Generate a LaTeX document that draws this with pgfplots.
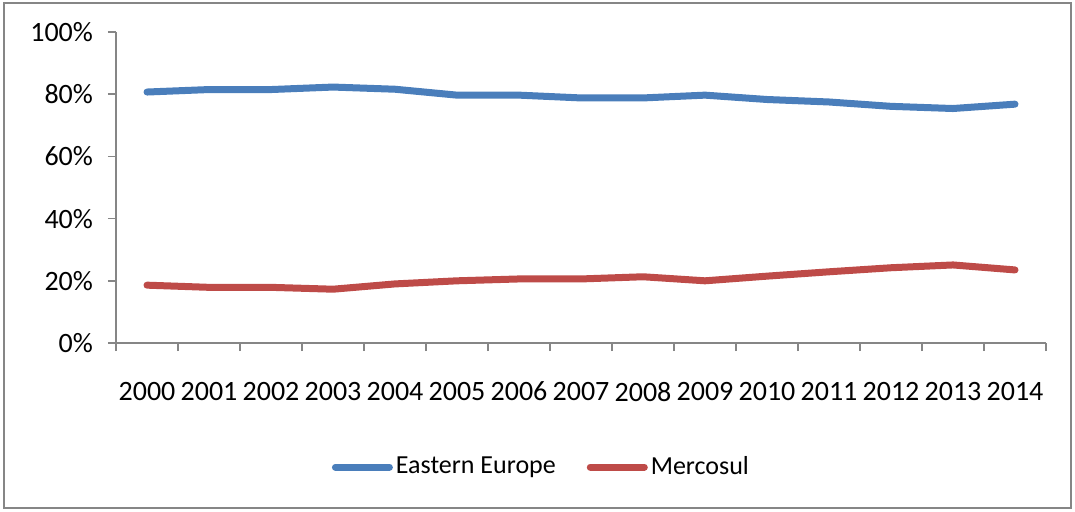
\documentclass[border=0pt]{standalone}
\usepackage{fontspec}
\setmainfont{Carlito}
\usepackage{pgfplots}
\pgfplotsset{compat=1.18}
\definecolor{eblue}{HTML}{4A7EBB}
\definecolor{mred}{HTML}{BE4B48}
\definecolor{axgray}{HTML}{868686}
\begin{document}
\begin{tikzpicture}
\path[use as bounding box] (-58pt,-84pt) rectangle (479.5pt,171.5pt);
\draw[axgray, line width=0.75pt] (-56pt,-82.5pt) rectangle (477.5pt,170pt);
\begin{axis}[
  at={(0pt,0pt)}, anchor=south west,
  scale only axis, width=465pt, height=155.5pt,
  xmin=-0.5, xmax=14.5, ymin=0, ymax=100,
  axis lines=left,
  axis line style={-, draw=axgray, line width=0.75pt},
  tick style={axgray, line width=0.75pt},
  tick align=outside,
  major tick length=4pt, minor tick length=4pt,
  ytick={0,20,...,100},
  yticklabel={\pgfmathprintnumber{\tick}\%},
  /pgf/number format/assume math mode=true,
  xtick={0,...,14},
  xticklabels={2000,2001,2002,2003,2004,2005,2006,2007,2008,2009,2010,2011,2012,2013,2014},
  major x tick style={draw=none},
  minor xtick={-0.5,0.5,...,14.5},
  ticklabel style={font=\fontsize{14}{16}\selectfont, text=black},
  xticklabel style={yshift=-12pt},
  yticklabel style={xshift=-4pt},
  legend style={draw=none, fill=none, at={(0.458,-0.399)}, anchor=center,
    font=\fontsize{13}{15}\selectfont, legend columns=2,
    nodes={inner sep=1.5pt},
    /tikz/every even column/.append style={column sep=14pt}},
  legend image code/.code={\draw[#1, line cap=round] (0pt,0pt) -- (27pt,0pt);},
  every axis plot/.append style={line width=3.5pt, line cap=round, line join=round},
]
\addplot[eblue, mark=none] coordinates {
(0,80.7) (1,81.5) (2,81.5) (3,82.3) (4,81.6) (5,79.7) (6,79.7) (7,78.8)
(8,78.8) (9,79.7) (10,78.3) (11,77.5) (12,76.1) (13,75.4) (14,76.8)};
\addlegendentry{Eastern Europe}
\addplot[mred, mark=none] coordinates {
(0,18.6) (1,17.9) (2,17.9) (3,17.3) (4,19.0) (5,20.0) (6,20.6) (7,20.6)
(8,21.3) (9,20.0) (10,21.5) (11,22.9) (12,24.2) (13,25.1) (14,23.5)};
\addlegendentry{Mercosul}
\end{axis}
\end{tikzpicture}
\end{document}
